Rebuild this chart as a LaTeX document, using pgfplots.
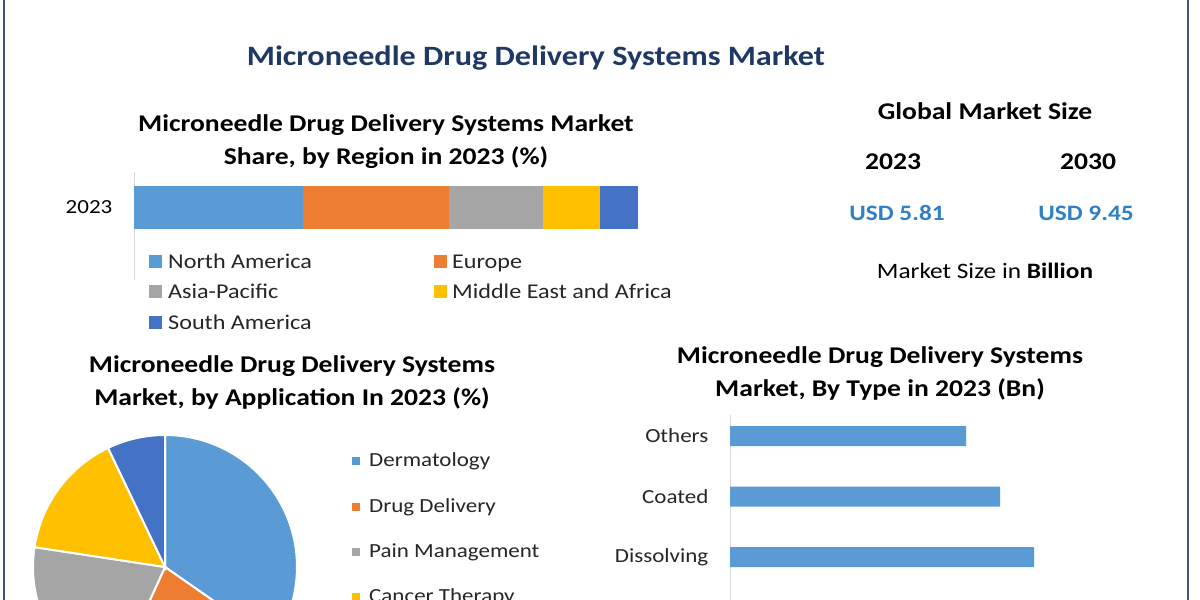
\documentclass[border=0pt]{standalone}
\usepackage{fontspec}
\setmainfont{Carlito}[FakeStretch=1.15]
\usepackage{pgfplots}
\pgfplotsset{compat=1.18}
\definecolor{cNA}{HTML}{5B9BD5}
\definecolor{cEU}{HTML}{ED7D31}
\definecolor{cAP}{HTML}{A5A5A5}
\definecolor{cME}{HTML}{FFC000}
\definecolor{cSA}{HTML}{4472C4}
\definecolor{navy}{HTML}{1F3864}
\definecolor{usd}{HTML}{2F80C4}
\definecolor{bordc}{HTML}{44546A}
\definecolor{axgray}{HTML}{D9D9D9}
\definecolor{legtext}{HTML}{262626}
\newcommand{\fs}[1]{\fontsize{#1}{#1}\selectfont}
\begin{document}
\begin{tikzpicture}[x=1pt,y=1pt]
\path[use as bounding box, fill=white] (0,0) rectangle (1200,600);
\clip (0,0) rectangle (1200,600);
% frame
\draw[bordc, line width=2pt] (4,0) -- (4,600);
\draw[bordc, line width=2pt] (1188,0) -- (1188,600);
% main title
\node[font=\fs{28}\bfseries, text=navy] at (536,542) {Microneedle Drug Delivery Systems Market};
% region subtitle
\node[font=\fs{24}\bfseries, align=center, text=black] at (386,458) {Microneedle Drug Delivery Systems Market\\[9pt]Share, by Region in 2023 (\%)};
% stacked region bar
\begin{axis}[at={(134pt,320pt)}, anchor=south west, scale only axis,
  width=504pt, height=108pt, xmin=0, xmax=100, ymin=-1.45, ymax=0.71,
  xbar stacked, bar width=43pt,
  axis x line=none, axis y line=left, y axis line style={draw=axgray,-, line width=1pt},
  ytick={0}, yticklabels={2023}, ytick style={draw=none},
  yticklabel style={font=\fs{20}, text=black, xshift=-16pt}, clip=false]
\addplot[fill=cNA, draw=none] coordinates {(33.5,0)};
\addplot[fill=cEU, draw=none] coordinates {(29.0,0)};
\addplot[fill=cAP, draw=none] coordinates {(18.7,0)};
\addplot[fill=cME, draw=none] coordinates {(11.3,0)};
\addplot[fill=cSA, draw=none] coordinates {(7.5,0)};
\end{axis}
% region legend
\fill[cNA] (149,332) rectangle ++(13,13); \node[anchor=base west, font=\fs{21}, text=legtext, inner sep=0pt] at (168,331) {North America};
\fill[cAP] (149,302) rectangle ++(13,13); \node[anchor=base west, font=\fs{21}, text=legtext, inner sep=0pt] at (168,301) {Asia-Pacific};
\fill[cSA] (149,271) rectangle ++(13,13); \node[anchor=base west, font=\fs{21}, text=legtext, inner sep=0pt] at (168,270) {South America};
\fill[cEU] (434,332) rectangle ++(13,13); \node[anchor=base west, font=\fs{21}, text=legtext, inner sep=0pt] at (452,331) {Europe};
\fill[cME] (434,302) rectangle ++(13,13); \node[anchor=base west, font=\fs{21}, text=legtext, inner sep=0pt] at (452,301) {Middle East and Africa};
% global market size panel
\node[font=\fs{24}\bfseries] at (985,489) {Global Market Size};
\node[font=\fs{24}\bfseries] at (893,438) {2023};
\node[font=\fs{24}\bfseries] at (1088,438) {2030};
\node[font=\fs{22}\bfseries, text=usd] at (897,387) {USD 5.81};
\node[font=\fs{22}\bfseries, text=usd] at (1086,387) {USD 9.45};
\node[font=\fs{22}] at (985,329) {Market Size in \textbf{Billion}};
% application subtitle
\node[font=\fs{24}\bfseries, align=center, text=black] at (292,218) {Microneedle Drug Delivery Systems\\[9pt]Market, by Application In 2023 (\%)};
% pie
\newcommand{\wedgeat}[3]{% start share color
  \pgfmathsetmacro{\aS}{#1*3.6}\pgfmathsetmacro{\aE}{(#1+#2)*3.6}%
  \edef\tmpwedge{\noexpand\fill[#3, draw=white, line width=2pt] (axis cs:0,0) -- (axis cs:{sin(\aS)},{cos(\aS)}) arc[start angle={90-\aS}, end angle={90-\aE}, radius=132pt] -- cycle;}%
  \tmpwedge}
\begin{axis}[at={(165pt,33pt)}, anchor=center, scale only axis, width=264pt, height=264pt,
  xmin=-1, xmax=1, ymin=-1, ymax=1, hide axis, clip=false]
\addplot[draw=none] coordinates {(0,0)};
\wedgeat{0}{34.7}{cNA}
\wedgeat{34.7}{22.1}{cEU}
\wedgeat{56.8}{20.6}{cAP}
\wedgeat{77.4}{15.5}{cME}
\wedgeat{92.9}{7.1}{cSA}
\end{axis}
% pie legend
\fill[cNA] (352,135) rectangle ++(8,8); \node[anchor=west, font=\fs{20}, text=legtext, inner sep=0pt] at (369,139) {Dermatology};
\fill[cEU] (352,89) rectangle ++(8,8); \node[anchor=west, font=\fs{20}, text=legtext, inner sep=0pt] at (369,93) {Drug Delivery};
\fill[cAP] (352,44) rectangle ++(8,8); \node[anchor=west, font=\fs{20}, text=legtext, inner sep=0pt] at (369,48) {Pain Management};
\fill[cME] (352,-1) rectangle ++(8,8); \node[anchor=west, font=\fs{20}, text=legtext, inner sep=0pt] at (369,3) {Cancer Therapy};
% type subtitle
\node[font=\fs{24}\bfseries, align=center, text=black] at (880,227) {Microneedle Drug Delivery Systems\\[9pt]Market, By Type in 2023 (Bn)};
% type bars
\begin{axis}[at={(730pt,-47.75pt)}, anchor=south west, scale only axis,
  width=400pt, height=232.9pt, xmin=0, xmax=2, ymin=-1.5, ymax=2.35,
  xbar, bar width=20pt,
  axis x line=none, axis y line=left, y axis line style={draw=axgray,-, line width=1pt},
  ytick={0,1,2}, yticklabels={Dissolving,Coated,Others}, ytick style={draw=none},
  yticklabel style={font=\fs{20}, text=legtext, xshift=-16pt}, clip=false]
\addplot[fill=cNA, draw=none] coordinates {(1.52,0) (1.35,1) (1.18,2)};
\end{axis}
\end{tikzpicture}
\end{document}
